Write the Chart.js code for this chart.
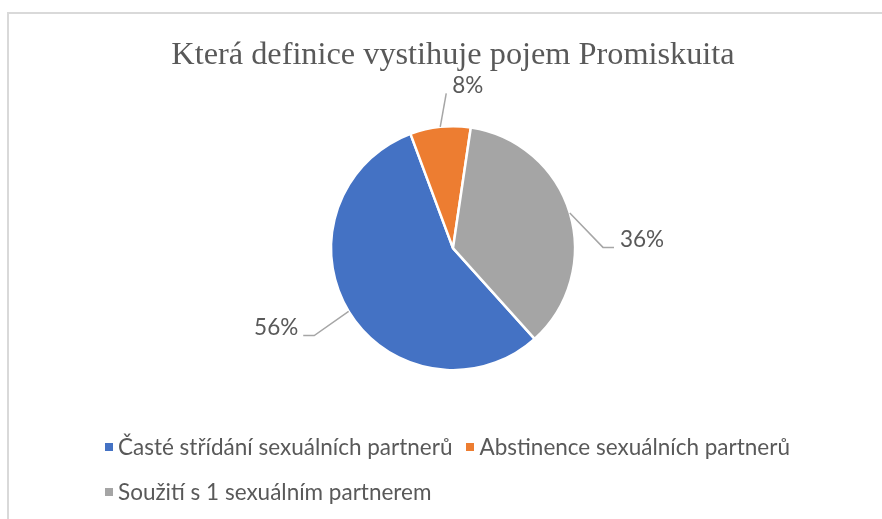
<!DOCTYPE html>
<html>
<head>
<meta charset="utf-8">
<script src="https://cdn.jsdelivr.net/npm/chart.js@4/dist/chart.umd.min.js"></script>
<style>
  body { margin: 0; background: #fff; width: 882px; height: 519px; overflow: hidden; position: relative; }
  #frame { position: absolute; left: 7px; top: 12px; width: 900px; height: 540px; border: 2px solid #d9d9d9; box-sizing: border-box; }
  #chart { position: absolute; left: 0; top: 0; }
  #legend { position: absolute; left: 105px; top: 424px; width: 710px; display: flex; flex-wrap: wrap;
            font-family: Lato, sans-serif; font-size: 22.5px; color: #595959; }
  .item { display: flex; align-items: center; height: 45px; margin-right: 14px; white-space: nowrap; }
  .box { width: 8px; height: 8px; margin-right: 5px; }
</style>
</head>
<body>
<div id="frame"></div>
<canvas id="chart" width="882" height="519"></canvas>
<div id="legend"></div>
<script>
const chartTitle = "Která definice vystihuje pojem Promiskuita";
const categories = [
    "Časté střídání sexuálních partnerů",
    "Abstinence sexuálních partnerů",
    "Soužití s 1 sexuálním partnerem"
];
const shares = [56, 8, 36];
const sliceColors = ["#4472C4", "#ED7D31", "#A5A5A5"];

// where each data label sits relative to its slice (angle shift in degrees, distance past the rim, elbow length)
const labelPlacement = [
    { shift: -1, dist: 42, elbow: -11 },
    { shift: 3.5, dist: 33, elbow: 0 },
    { shift: 16.5, dist: 28, elbow: 11 }
];

const pieLabels = {
    id: "pieLabels",
    afterDatasetsDraw(chart) {
        const ctx = chart.ctx;
        const meta = chart.getDatasetMeta(0);
        ctx.save();
        ctx.font = "22.5px Lato";
        ctx.textBaseline = "middle";
        meta.data.forEach((arc, i) => {
            const p = arc.getProps(["x", "y", "startAngle", "endAngle", "outerRadius"], true);
            const mid = (p.startAngle + p.endAngle) / 2;
            const place = labelPlacement[i];
            const a = mid + place.shift * Math.PI / 180;
            const sx = p.x + Math.cos(mid) * p.outerRadius;
            const sy = p.y + Math.sin(mid) * p.outerRadius;
            const ex = p.x + Math.cos(a) * (p.outerRadius + place.dist);
            const ey = p.y + Math.sin(a) * (p.outerRadius + place.dist);

            ctx.strokeStyle = "#A6A6A6";
            ctx.lineWidth = 1.5;
            ctx.beginPath();
            ctx.moveTo(sx, sy);
            ctx.lineTo(ex, ey);
            ctx.lineTo(ex + place.elbow, ey);
            ctx.stroke();

            ctx.fillStyle = "#595959";
            const text = shares[i] + "%";
            if (place.elbow < 0) {
                ctx.textAlign = "right";
                ctx.fillText(text, ex + place.elbow - 5, ey - 8);
            } else {
                ctx.textAlign = "left";
                ctx.fillText(text, ex + place.elbow + 6, ey - 8);
            }
        });
        ctx.restore();
    }
};

new Chart(document.getElementById("chart"), {
    type: "pie",
    data: {
        labels: categories,
        datasets: [{
            data: shares,
            backgroundColor: sliceColors,
            borderColor: "#ffffff",
            borderWidth: 2.5,
            radius: 122
        }]
    },
    options: {
        responsive: false,
        animation: false,
        rotation: 138,
        layout: { padding: { left: 24, right: 0, top: 0, bottom: 123 } },
        plugins: {
            legend: { display: false },
            tooltip: { enabled: false },
            title: {
                display: true,
                text: chartTitle,
                color: "#595959",
                font: { family: "'Liberation Serif', 'Times New Roman', serif", size: 32.3, weight: "normal" },
                padding: { top: 36, bottom: 25.6 }
            }
        }
    },
    plugins: [pieLabels]
});

document.getElementById("legend").innerHTML = categories.map((name, i) => `
    <div class="item">
        <span class="box" style="background:${sliceColors[i]}"></span>${name}
    </div>`).join("");
</script>
</body>
</html>
